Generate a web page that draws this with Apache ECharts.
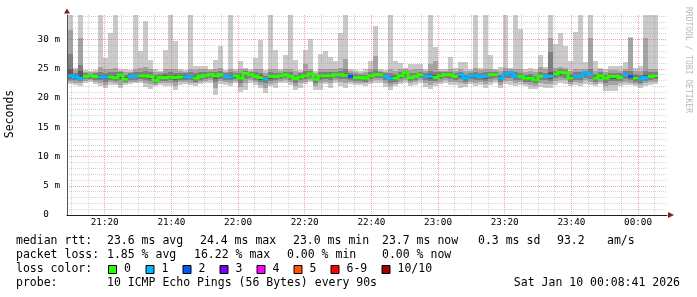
<!DOCTYPE html>
<html><head><meta charset="utf-8">
<script src="https://cdn.jsdelivr.net/npm/echarts@6/dist/echarts.min.js"></script>
<style>html,body{margin:0;padding:0;background:#fff}#c{width:697px;height:297px}</style>
</head><body><div id="c"></div>
<script>
// ---- axis / time settings ----
const axisStartLabel = '21:08:41';   // left edge of plot
const firstStepLabel = '21:09:00';   // start of first 90 s step
const stepSeconds = 90;
const spanMinutes = 180;
const yMax = 34.2;
const xTickLabels = ['21:20','21:40','22:00','22:20','22:40','23:00','23:20','23:40','00:00'];
const yTicks = [0,5,10,15,20,25,30];
const yTickLabels = ['0  ','5 m','10 m','15 m','20 m','25 m','30 m'];

// ---- smoke (sorted ping values, ms) per 90 s step ----
const pMax = [34.2,25.2,34.2,24.8,24.6,24.8,34.2,26.8,31.1,34.2, 25.0,24.9,24.8,34.2,28.1,33.2,26.5,25.0,24.7,28.2, 34.2,29.8,24.9,24.8,34.2,25.5,25.5,25.4,25.0,26.5, 28.9,24.8,34.2,24.9,26.3,25.2,24.9,26.9,29.9,24.8, 34.2,28.3,24.9,27.4,34.2,26.5,24.8,28.2,30.1,24.7, 27.5,28.1,27.1,26.3,31.2,34.2,24.9,24.8,24.6,25.0, 26.3,32.3,25.0,24.8,34.2,26.3,26.0,25.2,25.9,25.9, 25.8,25.0,34.2,28.8,25.0,24.9,27.0,25.1,26.1,26.2, 25.0,34.2,25.2,34.2,27.4,25.0,25.3,34.2,25.2,34.2, 31.8,25.0,25.1,25.0,27.4,25.3,34.2,29.2,31.2,28.9, 26.3,31.3,34.2,26.2,34.2,26.3,25.2,25.0,25.4,25.4, 25.4,26.1,30.4,25.2,25.4,34.2,34.2,34.2];
const p9 = [31.7,24.8,30.3,24.5,24.4,24.5,25.3,24.9,25.0,25.2, 24.7,24.5,24.5,25.0,25.1,25.3,25.0,24.5,24.4,24.9, 25.0,25.0,24.6,24.5,25.0,24.8,24.9,25.0,24.8,25.0, 25.1,24.5,25.0,24.6,24.9,25.0,24.7,24.9,25.0,24.3, 25.0,24.9,24.6,25.0,25.0,24.6,24.5,25.8,25.0,24.2, 24.9,25.0,24.9,25.0,25.1,26.6,24.6,24.4,24.3,24.4, 24.9,27.2,24.7,24.5,25.0,24.7,24.9,25.0,24.8,24.9, 25.0,24.7,25.8,26.3,24.7,24.7,25.0,24.7,25.0,24.6, 24.7,25.1,24.8,25.0,25.0,24.8,24.6,25.2,25.0,25.0, 25.0,24.5,24.6,24.4,25.3,24.9,30.2,25.2,25.3,25.2, 24.7,25.0,25.0,25.0,30.2,24.7,24.9,24.5,24.8,24.8, 24.7,25.0,30.2,24.6,24.7,30.2,25.0,25.0];
const p8 = [27.5,24.3,25.6,24.2,24.1,24.2,24.5,24.3,24.4,24.5, 24.4,24.0,24.2,24.4,24.5,24.6,24.5,24.0,24.1,24.3, 24.4,24.3,24.2,24.2,24.4,24.2,24.4,24.5,24.5,24.5, 24.6,24.2,24.4,24.3,24.3,24.7,24.4,24.4,24.3,23.8, 24.4,24.3,24.3,24.5,24.4,24.0,24.2,24.6,24.6,23.8, 24.4,24.4,24.4,24.5,24.6,25.0,24.3,24.1,24.0,23.9, 24.4,24.8,24.4,24.2,24.3,24.1,24.4,24.7,24.2,24.3, 24.5,24.3,24.6,24.5,24.4,24.5,24.5,24.3,24.5,24.0, 24.3,24.5,24.3,24.4,24.5,24.5,24.0,24.6,24.7,24.4, 24.3,24.0,24.1,23.8,24.4,24.3,27.9,24.6,24.9,24.8, 24.1,24.4,24.4,24.7,25.0,24.1,24.4,24.0,24.3,24.3, 24.2,24.6,24.6,24.1,24.0,24.6,24.4,24.4];
const p7 = [25.0,24.0,24.6,23.9,24.0,23.9,24.0,24.0,24.0,24.0, 24.1,23.6,23.9,24.0,24.1,24.1,24.0,23.5,23.8,23.9, 24.0,23.9,23.9,23.9,24.0,23.8,24.0,24.2,24.2,24.1, 24.3,24.0,24.0,24.0,23.8,24.4,24.2,24.0,23.9,23.5, 24.0,24.0,24.0,24.2,24.0,23.6,23.9,24.1,24.3,23.5, 24.1,24.1,24.1,24.2,24.3,24.3,24.0,23.8,23.8,23.6, 24.1,24.3,24.2,23.9,23.8,23.7,24.0,24.5,23.8,24.0, 24.2,24.0,24.1,24.0,24.1,24.2,24.2,24.0,24.2,23.7, 24.0,24.1,24.0,24.0,24.2,24.2,23.7,24.3,24.5,24.0, 24.0,23.7,23.7,23.4,24.0,24.0,24.4,24.3,24.6,24.5, 23.7,24.0,24.0,24.5,24.3,23.7,24.1,23.7,24.0,24.0, 23.8,24.3,24.0,23.7,23.5,24.0,24.0,24.1];
const median = [23.8,23.6,23.35,23.7,23.8,23.7,23.6,23.6,23.6,23.5, 23.9,23.2,23.65,23.7,23.8,23.8,23.7,23.0,23.5,23.5, 23.6,23.5,23.6,23.6,23.7,23.4,23.7,23.9,24.0,23.8, 24.0,23.7,23.6,23.8,23.4,24.2,24.0,23.7,23.5,23.2, 23.7,23.7,23.8,24.0,23.7,23.35,23.6,23.8,24.1,23.2, 23.8,23.8,23.8,24.0,24.0,23.9,23.7,23.5,23.5,23.4, 23.8,24.0,24.0,23.7,23.4,23.4,23.8,24.3,23.5,23.7, 24.0,23.7,23.7,23.5,23.8,24.0,24.0,23.7,24.0,23.4, 23.8,23.8,23.7,23.7,24.0,24.0,23.4,24.1,24.3,23.7, 23.7,23.4,23.4,23.1,23.7,23.7,23.7,24.1,24.4,24.3, 23.4,23.7,23.7,24.3,24.0,23.4,23.8,23.4,23.7,23.7, 23.5,24.0,23.7,23.4,23.2,23.5,23.7,23.8];
const p4 = [23.4,23.3,23.1,23.4,23.5,23.4,23.3,23.2,23.3,23.2, 23.5,23.0,23.4,23.4,23.5,23.4,23.3,22.8,23.2,23.2, 23.3,23.1,23.3,23.3,23.4,23.1,23.4,23.6,23.7,23.3, 23.7,23.4,23.3,23.5,23.0,23.7,23.7,23.4,23.1,22.9, 23.3,23.4,23.5,23.7,23.4,23.0,23.3,23.5,23.8,22.9, 23.5,23.5,23.5,23.7,23.7,23.6,23.4,23.2,23.2,23.1, 23.5,23.7,23.7,23.4,23.0,23.1,23.5,23.9,23.2,23.4, 23.7,23.4,23.3,23.2,23.5,23.7,23.7,23.4,23.6,23.1, 23.5,23.5,23.4,23.3,23.7,23.7,23.1,23.8,23.9,23.4, 23.4,23.1,23.1,22.8,23.4,23.4,23.3,23.8,24.0,23.9, 23.1,23.4,23.4,23.9,23.7,23.1,23.5,23.0,23.3,23.3, 23.2,23.7,23.4,23.1,22.9,23.2,23.4,23.5];
const p3 = [23.1,23.0,22.9,23.2,23.3,23.1,23.0,22.8,23.0,22.9, 23.0,22.8,23.1,23.1,23.2,23.0,22.9,22.6,22.9,22.9, 23.0,22.7,23.0,23.0,23.0,22.8,23.1,23.3,23.4,22.7, 23.3,23.1,23.0,23.2,22.5,23.2,23.4,23.1,22.7,22.5, 22.9,23.0,23.2,23.4,23.1,22.6,23.0,23.2,23.5,22.5, 23.1,23.2,23.1,23.4,23.3,23.2,23.1,22.9,22.9,22.8, 23.2,23.4,23.4,23.0,22.6,22.8,23.2,23.5,22.9,23.1, 23.4,23.0,22.9,22.9,23.2,23.4,23.3,23.1,23.2,22.8, 23.2,23.1,23.1,22.9,23.3,23.4,22.8,23.4,23.5,23.0, 23.1,22.8,22.7,22.5,23.0,23.0,22.9,23.4,23.6,23.5, 22.8,23.1,23.0,23.5,23.3,22.8,23.2,22.6,22.9,22.9, 22.9,23.3,23.0,22.8,22.6,22.9,23.1,23.2];
const p2 = [22.8,22.6,22.5,22.9,23.0,22.8,22.5,22.3,22.7,22.6, 22.3,22.5,22.8,22.8,22.9,22.5,22.4,22.3,22.6,22.5, 22.6,22.0,22.7,22.7,22.6,22.5,22.8,22.9,23.0,21.8, 22.9,22.7,22.6,22.9,21.9,22.6,23.0,22.7,22.2,21.8, 22.4,22.5,22.9,23.0,22.7,22.0,22.5,22.8,23.1,22.0, 22.6,22.8,22.5,23.0,22.8,22.6,22.8,22.6,22.6,22.5, 22.8,23.0,23.0,22.5,22.0,22.4,22.8,23.0,22.5,22.7, 23.0,22.5,22.3,22.5,22.8,23.0,22.8,22.7,22.6,22.4, 22.8,22.6,22.7,22.4,22.8,23.0,22.3,22.9,22.9,22.5, 22.7,22.4,22.2,22.1,22.5,22.4,22.4,22.9,23.1,23.0, 22.4,22.7,22.5,23.0,22.8,22.4,22.8,22.0,22.2,22.2, 22.5,22.8,22.6,22.4,22.2,22.5,22.7,22.8];
const pMin = [22.4,22.2,22.1,22.5,22.7,22.4,22.0,21.7,22.3,22.2, 21.7,22.2,22.4,22.5,22.5,21.9,21.6,22.0,22.3,22.0, 22.1,21.4,22.3,22.4,22.2,22.1,22.4,22.5,22.6,20.5, 22.4,22.2,22.1,22.5,21.1,21.4,22.6,22.3,21.7,20.8, 22.0,21.7,22.5,22.6,22.3,21.4,21.7,22.4,22.7,21.4, 21.4,22.4,21.7,22.6,22.0,21.7,22.4,22.2,22.3,22.1, 22.4,22.6,22.6,21.9,21.3,22.0,22.4,22.5,22.1,22.3, 22.6,21.9,21.5,22.1,22.4,22.6,22.2,22.3,21.7,21.9, 22.4,22.1,22.3,21.8,22.2,22.6,21.8,22.4,22.3,22.0, 22.3,22.0,21.6,21.6,21.9,21.8,21.8,22.3,22.5,22.4, 22.0,22.3,22.0,22.4,22.2,22.0,22.4,21.2,21.2,21.2, 22.1,22.3,22.2,22.0,21.8,22.1,22.3,22.4];
// lost pings (of 10) per step
const loss = [1,1,1,0,0,0,1,1,0,0, 0,0,1,1,0,0,0,0,0,0, 0,0,0,1,1,0,0,0,0,0, 0,1,1,0,0,0,0,0,0,1, 0,0,0,0,0,0,0,0,0,0, 0,0,0,0,0,0,2,0,0,0, 0,0,0,1,1,0,0,0,0,0, 0,1,1,0,0,0,0,0,1,1, 1,1,1,1,0,0,1,1,1,1, 0,0,0,0,0,1,1,0,0,0, 0,1,1,1,1,0,0,0,0,0, 0,1,2,0,1,1,0,0];

const lossLabels = ['0','1','2','3','4','5','6-9','10/10'];
const lossColors = ['#26ff00','#00b8ff','#0059ff','#7a00ff','#ff00ff','#ff5500','#ff0000','#a10000'];
const smokeColors = ['#cacaca','#a4a4a4','#7e7e7e','#585858'];

const legendRtt = [['median rtt:',16],['23.6 ms avg',107],['24.4 ms max',200],['23.0 ms min',293],['23.7 ms now',382],['0.3 ms sd',478],['93.2',557],['am/s',607]];
const legendLoss = [['packet loss:',16],['1.85 % avg',107],['16.22 % max',194],['0.00 % min',287],['0.00 % now',382]];
const probeText = '10 ICMP Echo Pings (56 Bytes) every 90s';
const dateText = 'Sat Jan 10 00:08:41 2026';

// ---- helpers ----
function toMin(s){const p=s.split(':').map(Number);return p[0]*60+p[1]+(p[2]||0)/60;}
const T0 = toMin(axisStartLabel);
const T1 = T0 + spanMinutes;
const S0 = toMin(firstStepLabel);
const stepMin = stepSeconds/60;
const xTickVals = xTickLabels.map(l=>{let m=toMin(l); if(m<T0) m+=1440; return m;});
const minorX=[]; for(let m=Math.ceil(T0/5)*5;m<=T1;m+=5){ if(m%20!==0) minorX.push(m); }
const minorY=[]; for(let v=1;v<=Math.floor(yMax);v++){ if(v%5!==0) minorY.push(v); }
const lossIdx = n => n<=5 ? n : (n<10 ? 6 : 7);

const bands = [[pMin,pMax],[p2,p9],[p3,p8],[p4,p7]];
const bandSeries = bands.map((b,bi)=>({
  type:'custom', xAxisIndex:0, yAxisIndex:0, z:2+bi*0.01, silent:true,
  encode:{x:[0,1], y:[2,3]},
  data: b[0].map((lo,i)=>[S0+i*stepMin, S0+(i+1)*stepMin, lo, b[1][i]]),
  renderItem(params, api){
    const a = api.coord([api.value(0), api.value(3)]);
    const c = api.coord([api.value(1), api.value(2)]);
    const x0=Math.round(a[0]), x1=Math.round(c[0]);
    const y0=Math.round(a[1]), y1=Math.round(c[1]);
    return {type:'rect', shape:{x:x0,y:y0,width:x1-x0,height:Math.max(1,y1-y0)}, style:{fill:smokeColors[bi]}};
  }
}));

const medSeries = {
  type:'custom', xAxisIndex:0, yAxisIndex:0, z:4, silent:true,
  encode:{x:[0,1], y:2},
  data: median.map((m,i)=>[S0+i*stepMin, S0+(i+1)*stepMin, m, loss[i], (i>0 && lossIdx(loss[i-1])===lossIdx(loss[i])) ? median[i-1] : -1]),
  renderItem(params, api){
    const a = api.coord([api.value(0), api.value(2)]);
    const c = api.coord([api.value(1), api.value(2)]);
    const col = lossColors[lossIdx(api.value(3))];
    const x0=Math.round(a[0]), x1=Math.round(c[0]);
    const yc=a[1];
    const children=[{type:'rect', shape:{x:x0,y:yc-1.5,width:x1-x0,height:3}, style:{fill:col}}];
    const prev = api.value(4);
    if(prev>=0){
      const pp = api.coord([api.value(0), prev]);
      const top=Math.min(pp[1],yc)-1.5, bot=Math.max(pp[1],yc)+1.5;
      children.push({type:'rect', shape:{x:x0-1.5,y:top,width:3,height:bot-top}, style:{fill:col}});
    }
    return {type:'group', children};
  }
};

const mono = '"DejaVu Sans Mono", monospace';
const minorLine = {color:'rgba(143,143,143,0.38)', width:1, type:[1,1]};
const majorLine = {color:'rgba(222,79,79,0.5)', width:1, type:[1,1]};

function txt(s,x,y,extra){
  return Object.assign({type:'text', x:x, y:y, silent:true, z:100,
    style:{text:s, font:'11.5px '+mono, fill:'#000', align:'left', verticalAlign:'middle', textAlign:'left', textVerticalAlign:'middle'}}, extra||{});
}
const graphics=[];
legendRtt.forEach(([s,x])=>graphics.push(txt(s,x,241.5)));
legendLoss.forEach(([s,x])=>graphics.push(txt(s,x,255.5)));
graphics.push(txt('loss color:',16,269.5));
const sqX=[108,145.5,182.5,219.5,256.5,293.5,330.5,381.5];
lossLabels.forEach((l,i)=>{
  graphics.push({type:'rect', silent:true, z:100, shape:{x:sqX[i]+0.5,y:265.5,width:8,height:8}, style:{fill:lossColors[i], stroke:'#000', lineWidth:1}});
  graphics.push(txt(l,sqX[i]+16,269.5));
});
graphics.push(txt('probe:',16,283.5));
graphics.push(txt(probeText,107,283.5));
graphics.push(txt(dateText,680,283.5,{style:{text:dateText,font:'11.5px '+mono,fill:'#000',align:'right',verticalAlign:'middle',textAlign:'right',textVerticalAlign:'middle'}}));
graphics.push({type:'text', x:10, y:114, rotation:Math.PI/2, silent:true, z:100,
  style:{text:'Seconds', font:'11.5px '+mono, fill:'#000', align:'center', verticalAlign:'middle', textAlign:'center', textVerticalAlign:'middle'}});
graphics.push({type:'text', x:688, y:60, rotation:-Math.PI/2, silent:true, z:100,
  style:{text:'RRDTOOL / TOBI OETIKER', font:'8px '+mono, fill:'#b8b8b8', align:'center', verticalAlign:'middle', textAlign:'center', textVerticalAlign:'middle'}});

const chart = echarts.init(document.getElementById('c'), null, {renderer:'canvas'});
chart.setOption({
  animation:false,
  backgroundColor:'#ffffff',
  grid:{left:67, top:15, width:600, height:200, containLabel:false},
  xAxis:[
    {type:'value', min:T0, max:T1, show:false},
    {type:'value', min:T0, max:T1, position:'bottom', offset:0, z:5,
     axisLine:{show:false}, axisTick:{show:false, customValues:minorX}, axisLabel:{show:false},
     splitLine:{show:true, lineStyle:minorLine}},
    {type:'value', min:T0, max:T1, position:'bottom', offset:0, z:6,
     axisLine:{show:true, onZero:false, lineStyle:{color:'#1f1f1f', width:1}},
     axisTick:{show:false, customValues:xTickVals},
     axisLabel:{customValues:xTickVals, margin:3, fontFamily:mono, fontSize:9.3, color:'#000',
       formatter:(v)=>{const i=xTickVals.findIndex(t=>Math.abs(t-v)<1e-6); return i>=0?xTickLabels[i]:'';}},
     splitLine:{show:true, lineStyle:majorLine}},
    {type:'value', min:T0, max:T1, position:'bottom', offset:0, z:7,
     axisLine:{show:true, onZero:false, symbol:['none','triangle'], symbolSize:[6,6], symbolOffset:[0,4], lineStyle:{color:'#801f1f', width:0}},
     axisTick:{show:false}, axisLabel:{show:false}, splitLine:{show:false}}
  ],
  yAxis:[
    {type:'value', min:0, max:yMax, show:false},
    {type:'value', min:0, max:yMax, position:'left', offset:0, z:5,
     axisLine:{show:false}, axisTick:{show:false, customValues:minorY}, axisLabel:{show:false},
     splitLine:{show:true, lineStyle:minorLine}},
    {type:'value', min:0, max:yMax, position:'left', offset:0, z:6,
     axisLine:{show:true, onZero:false, lineStyle:{color:'#555', width:1}},
     axisTick:{show:false, customValues:yTicks},
     axisLabel:{customValues:yTicks, margin:7, fontFamily:mono, fontSize:9.3, color:'#000',
       formatter:(v)=>{const i=yTicks.indexOf(v); return i>=0?yTickLabels[i]:'';}},
     splitLine:{show:true, lineStyle:majorLine}},
    {type:'value', min:0, max:yMax, position:'left', offset:0, z:7,
     axisLine:{show:true, onZero:false, symbol:['none','triangle'], symbolSize:[6,5], symbolOffset:[0,4], lineStyle:{color:'#801f1f', width:0}},
     axisTick:{show:false}, axisLabel:{show:false}, splitLine:{show:false}}
  ],
  series:[...bandSeries, medSeries],
  graphic:graphics
});
</script></body></html>
